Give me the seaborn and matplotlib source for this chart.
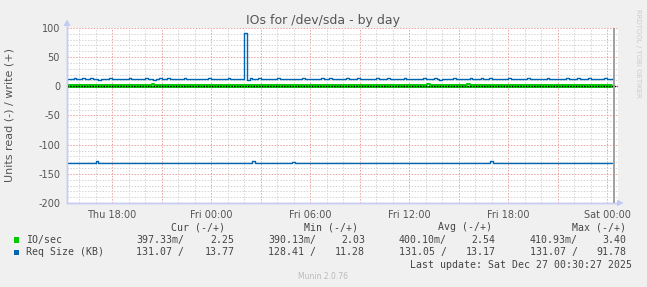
import matplotlib
matplotlib.use("Agg")
import matplotlib.pyplot as plt
from matplotlib.patches import Rectangle, Polygon
from matplotlib.lines import Line2D
import seaborn as sns
import numpy as np
import pandas as pd

# ---------------- data ----------------
title = "IOs for /dev/sda - by day"
ylabel = "Units read (-) / write (+)"
x_tick_pos = [-6, 0, 6, 12, 18, 24]          # hours relative to Fri 00:00
x_tick_labels = ["Thu 18:00", "Fri 00:00", "Fri 06:00", "Fri 12:00", "Fri 18:00", "Sat 00:00"]
y_ticks = [100, 50, 0, -50, -100, -150, -200]

# Req Size (KB), write (+): 10-minute samples starting Thu 15:20
write_start = -8 - 40 / 60
sample_step = 10 / 60
reqsize_write = [
    12.6, 12.9, 13.8, 12.4, 12.8, 13.5, 12.2, 12.7, 14.1, 12.5, 12.9, 11.6, 12.8, 13.2, 12.4, 13.9, 12.6, 12.3, 13.4, 12.8,
    11.9, 12.7, 13.6, 12.4, 12.9, 12.1, 13.3, 12.6, 14.0, 12.5, 12.8, 11.7, 12.6, 13.5, 12.3, 12.9, 13.8, 12.4, 12.2, 13.1,
    12.7, 12.5, 13.9, 12.3, 12.6, 11.8, 12.9, 13.4, 12.5, 12.8, 12.2, 13.6, 12.7, 12.4, 13.0, 12.6, 12.9, 12.3, 13.7, 12.5,
    12.8, 12.4, 13.2, 12.6, 91.78, 11.2, 13.9, 12.1, 12.8, 13.5, 12.6, 12.9, 12.4, 13.3, 12.7, 12.5, 13.8, 12.6, 12.2, 13.1,
    12.9, 12.6, 13.4, 12.5, 12.8, 14.2, 12.7, 12.4, 13.0, 12.6, 11.9, 12.8, 13.5, 12.7, 12.5, 13.9, 12.4, 12.8, 13.2, 12.6,
    12.7, 13.6, 12.4, 12.9, 12.3, 13.8, 12.6, 12.8, 11.8, 13.3, 12.7, 12.5, 14.0, 12.6, 12.9, 12.2, 13.5, 12.7, 12.4, 13.1,
    12.8, 12.5, 13.7, 12.3, 12.9, 12.6, 13.4, 12.1, 12.8, 13.9, 12.5, 12.7, 12.4, 13.6, 12.9, 11.7, 12.8, 13.2, 12.6, 12.4,
    13.8, 12.7, 12.5, 13.3, 12.6, 12.9, 14.1, 12.4, 12.8, 12.2, 13.5, 12.7, 12.6, 13.9, 12.3, 12.8, 13.1, 12.5, 12.9, 12.4,
    13.6, 12.6, 12.8, 12.3, 13.4, 12.7, 12.5, 13.8, 12.4, 12.9, 12.6, 13.2, 12.8, 12.5, 13.7, 12.6, 12.3, 12.9, 13.3, 12.7,
    12.5, 13.9, 12.6, 12.8, 12.4, 13.5, 12.7, 12.9, 12.3, 13.6, 12.8, 12.5, 13.2, 12.6, 12.9, 13.77, 12.7, 13.4, 13.77,
]

# Req Size (KB), read (-): change points (hours, value)
reqsize_read_t = [-8.667, -7.0, -6.833, 2.5, 2.667, 4.917, 5.083, 16.917, 17.083, 24.33]
reqsize_read_v = [131.07, 128.41, 131.07, 128.6, 131.07, 128.9, 131.07, 128.8, 131.07, 131.07]

# IO/sec write (+) and read (-): change points (hours, value)
io_write_t = [-8.667, -3.6, -3.433, -0.1, 0.067, 1.0, 1.167, 2.55, 2.717, 13.1, 13.267, 15.5, 15.667, 24.33]
io_write_v = [2.25, 3.2, 2.2, 3.1, 2.2, 3.0, 2.2, 3.1, 2.2, 3.4, 2.2, 3.2, 2.2, 2.25]
io_read_t = [-8.667, 24.33]
io_read_v = [0.397, 0.397]

legend_rows = [
    ("IO/sec", "#00cc00", ["397.33m/", "2.25", "390.13m/", "2.03", "400.10m/", "2.54", "410.93m/", "3.40"]),
    ("Req Size (KB)", "#0066b3", ["131.07 /", "13.77", "128.41 /", "11.28", "131.05 /", "13.17", "131.07 /", "91.78"]),
]
legend_headers = ["Cur (-/+)", "Min (-/+)", "Avg (-/+)", "Max (-/+)"]
last_update = "Last update: Sat Dec 27 00:30:27 2025"
now_hours = 24.42

# ---------------- style ----------------
sns.set_theme(style="white")
plt.rcParams["font.family"] = ["DejaVu Sans"]

W, H = 647, 287
def fx(x):
    return x / W
def fy(y):
    return 1 - y / H

fig = plt.figure(figsize=(W / 100, H / 100), dpi=100, facecolor="#f0f0f0")
ax = fig.add_axes([fx(67), fy(203), (618 - 67) / W, 175 / H])
ax.set_facecolor("white")

GREEN = "#00cc00"
BLUE = "#0066b3"

# ---------------- series ----------------
t_write = write_start + np.arange(len(reqsize_write)) * sample_step
df_w = pd.DataFrame({"t": t_write, "v": reqsize_write})
df_r = pd.DataFrame({"t": reqsize_read_t, "v": -np.array(reqsize_read_v)})
df_iw = pd.DataFrame({"t": io_write_t, "v": io_write_v})
df_ir = pd.DataFrame({"t": io_read_t, "v": -np.array(io_read_v)})

for df, col in [(df_iw, GREEN), (df_ir, GREEN)]:
    sns.lineplot(data=df, x="t", y="v", ax=ax, color=col, lw=1.4,
                 drawstyle="steps-post", legend=False, zorder=3)
ax.axhline(0, color="black", lw=1.0, ls=(0, (1, 1)), zorder=4)
for df in [df_w, df_r]:
    sns.lineplot(data=df, x="t", y="v", ax=ax, color=BLUE, lw=1.0,
                 drawstyle="steps-post", legend=False, zorder=5)

ax.axvline(now_hours, color="#999999", lw=1.3, zorder=6)

# ---------------- axes ----------------
ax.set_xlim((67 - 211) / 16.5, (618 - 211) / 16.5)
ax.set_ylim(-200, 100)

major_x = np.arange(-6, 25, 3)
lab_map = dict(zip(x_tick_pos, x_tick_labels))
ax.set_xticks(major_x)
ax.set_xticklabels([lab_map.get(int(t), "") for t in major_x])
ax.set_xticks(np.arange(-8, 25, 1), minor=True)
ax.set_yticks(y_ticks)
ax.set_yticklabels([str(v) for v in y_ticks])
ax.set_yticks(np.arange(-200, 101, 10), minor=True)

ax.grid(which="minor", color="#d4d4d4", lw=0.7, ls=(0, (1.5, 1.5)))
ax.grid(which="major", color="#eaa0a0", lw=0.7, ls=(0, (1.5, 1.5)))
ax.set_axisbelow(True)

ax.tick_params(which="major", length=3, width=0.6, color="#e0a0a0",
               labelsize=7, labelcolor="#555555", pad=2)
ax.tick_params(which="minor", length=3, width=0.6, color="#cccccc")
ax.set_xlabel("")
ax.set_ylabel("")

for s in ["top", "right"]:
    ax.spines[s].set_visible(False)
for s in ["left", "bottom"]:
    ax.spines[s].set_color("#c8ccf4")
    ax.spines[s].set_linewidth(1.0)

# axis extensions and arrows
AX_COL = "#c8ccf4"
fig.add_artist(Line2D([fx(67), fx(67)], [fy(203), fy(24)], color=AX_COL, lw=1.0))
fig.add_artist(Line2D([fx(67), fx(620)], [fy(203), fy(203)], color=AX_COL, lw=1.0))
fig.add_artist(Polygon([(fx(63.5), fy(26)), (fx(70.5), fy(26)), (fx(67), fy(19.5))],
                       closed=True, transform=fig.transFigure, color="#c0c8f8", lw=0))
fig.add_artist(Polygon([(fx(617), fy(199.5)), (fx(617), fy(206.5)), (fx(623.5), fy(203))],
                       closed=True, transform=fig.transFigure, color="#c0c8f8", lw=0))

# ---------------- texts ----------------
TXT = "#444444"
fig.text(fx(323.5), fy(24), title, ha="center", va="baseline", fontsize=9, color="#555555")
fig.text(fx(10), fy(115.5), ylabel, ha="center", va="center", rotation=90,
         fontsize=8, color="#555555")
fig.text(fx(638.3), fy(53.3), "RRDTOOL / TOBI OETIKER", ha="center", va="center",
         rotation=270, fontsize=5, color="#cccccc")
fig.text(fx(323), fy(279), "Munin 2.0.76", ha="center", va="baseline",
         fontsize=5.5, color="#bbbbbb")

MONO = "DejaVu Sans Mono"
MS = 7.1
head_right = [225, 358.3, 492.3, 626]
for h, xr in zip(legend_headers, head_right):
    fig.text(fx(xr), fy(230), h, ha="right", va="baseline", family=MONO, fontsize=MS, color=TXT)

val_right = [184, 234.3, 315.8, 365, 446.8, 495.7, 577.5, 626]
row_base = [242.7, 255.3]
sq_top = [237.3, 250.0]
for (name, col, vals), yb, st in zip(legend_rows, row_base, sq_top):
    fig.add_artist(Rectangle((fx(14), fy(st + 5.4)), 5.4 / W, 5.4 / H,
                             transform=fig.transFigure, color=col, lw=0))
    fig.text(fx(26.3), fy(yb), name, ha="left", va="baseline", family=MONO, fontsize=MS, color=TXT)
    for v, xr in zip(vals, val_right):
        fig.text(fx(xr), fy(yb), v, ha="right", va="baseline", family=MONO, fontsize=MS, color=TXT)

fig.text(fx(632.3), fy(267.5), last_update, ha="right", va="baseline",
         family=MONO, fontsize=MS, color=TXT)

fig.savefig("out.png", dpi=100, facecolor=fig.get_facecolor())
